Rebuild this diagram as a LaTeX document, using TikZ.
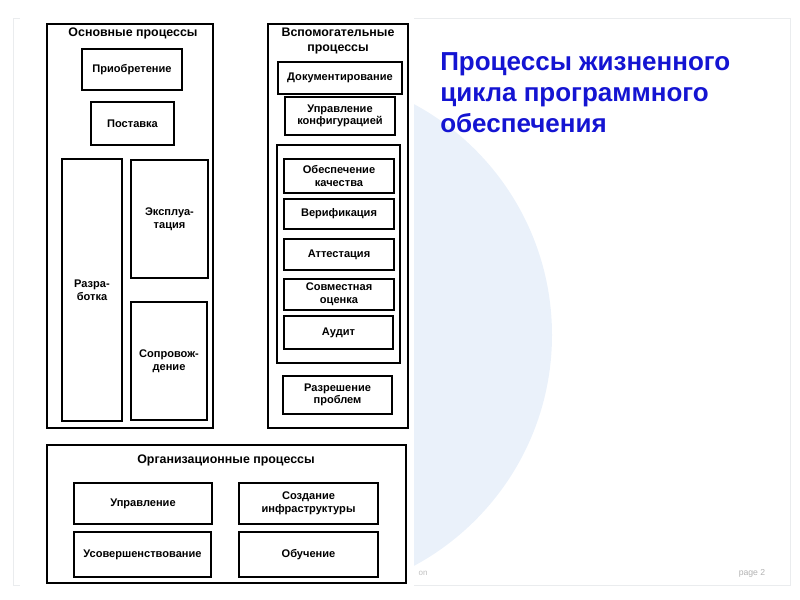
\documentclass[tikz,border=0pt]{standalone}
\usepackage{fontspec}
\setmainfont{Liberation Sans}
\usetikzlibrary{positioning}
\definecolor{titleblue}{RGB}{20,20,210}
\definecolor{paleblue}{RGB}{234,241,250}
\tikzset{
  proc/.style={draw,line width=1pt,align=center,font=\fontsize{8.3}{9.5}\selectfont\bfseries,inner sep=1pt},
  grp/.style={draw,line width=1.5pt},
  sz/.style 2 args={minimum width=#1*0.75pt,minimum height=#2*0.75pt},
  grptitle/.style={align=center,font=\fontsize{9.3}{11.5}\selectfont\bfseries,inner sep=0.75pt}
}
\begin{document}
\begin{tikzpicture}[x=0.75pt,y=0.75pt,yscale=-1,xscale=1]
        \useasboundingbox (0,0) rectangle (800,600);
        % slide background
        \begin{scope}
          \clip (414,0) rectangle (800,600);
          \fill[paleblue] (290,335) circle (262);
        \end{scope}
        \draw[paleblue!70!gray!40,line width=0.6pt] (13,18) rectangle (790,585);
        \fill[white] (20,12) rectangle (414,590);
        % Main processes
        \draw[grp] (47,24) rectangle (213,428);
        \node[grptitle] (mainT) at (133,33) {Основные процессы};
        \node[proc,sz={100}{41}] (acq) at (132,69.5) {Приобретение};
        \node[proc,sz={83}{43}] (sup) at (132.5,123.5) {Поставка};
        \node[proc,sz={60}{262}] (dev) at (92,290) {Разра-\\ботка};
        \node[proc,sz={77}{118}] (opr) at (169.5,219) {Эксплуа-\\тация};
        \node[proc,sz={76}{118}] (mnt) at (169,361) {Сопровож-\\дение};
        % Supporting processes
        \draw[grp] (268,24) rectangle (408,428);
        \node[grptitle] (supT) at (338,41) {Вспомогательные\\процессы};
        \node[proc,sz={124}{32}] (doc) at (340,78) {Документирование};
        \node[proc,sz={110}{38}] (cfg) at (340,116) {Управление\\конфигурацией};
        \draw[line width=1pt] (277,145) rectangle (400,363);
        \node[proc,sz={110}{34}] (qa) at (339,176) {Обеспечение\\качества};
        \node[proc,sz={110}{30}] (ver) at (339,214) {Верификация};
        \node[proc,sz={110}{31}] (val) at (339,254.5) {Аттестация};
        \node[proc,sz={110}{31}] (rev) at (339,294.5) {Совместная\\оценка};
        \node[proc,sz={109}{33}] (aud) at (338.5,332.5) {Аудит};
        \node[proc,sz={109}{38}] (prb) at (337.5,395) {Разрешение\\проблем};
        % Organizational processes
        \draw[grp] (47,445) rectangle (406,583);
        \node[grptitle] (orgT) at (226,460) {Организационные процессы};
        \node[proc,sz={138}{41}] (mgt) at (143,503.5) {Управление};
        \node[proc,sz={139}{41}] (inf) at (308.5,503.5) {Создание\\инфраструктуры};
        \node[proc,sz={137}{45}] (imp) at (142.5,554.5) {Усовершенствование};
        \node[proc,sz={139}{45}] (trn) at (308.5,554.5) {Обучение};
        % Title
        \node[anchor=north west,align=left,text=titleblue,font=\fontsize{19.5}{23.5}\selectfont\bfseries,inner sep=0pt] (title) at (440,52) {Процессы жизненного\\цикла программного\\обеспечения};
        \node[text=gray!50,font=\fontsize{6}{7}\selectfont,inner sep=0pt] (foot) at (423,573) {on};
        \node[text=gray!60,font=\fontsize{6.5}{7}\selectfont,inner sep=0pt] (page) at (752,573) {page 2};
\end{tikzpicture}
\end{document}
